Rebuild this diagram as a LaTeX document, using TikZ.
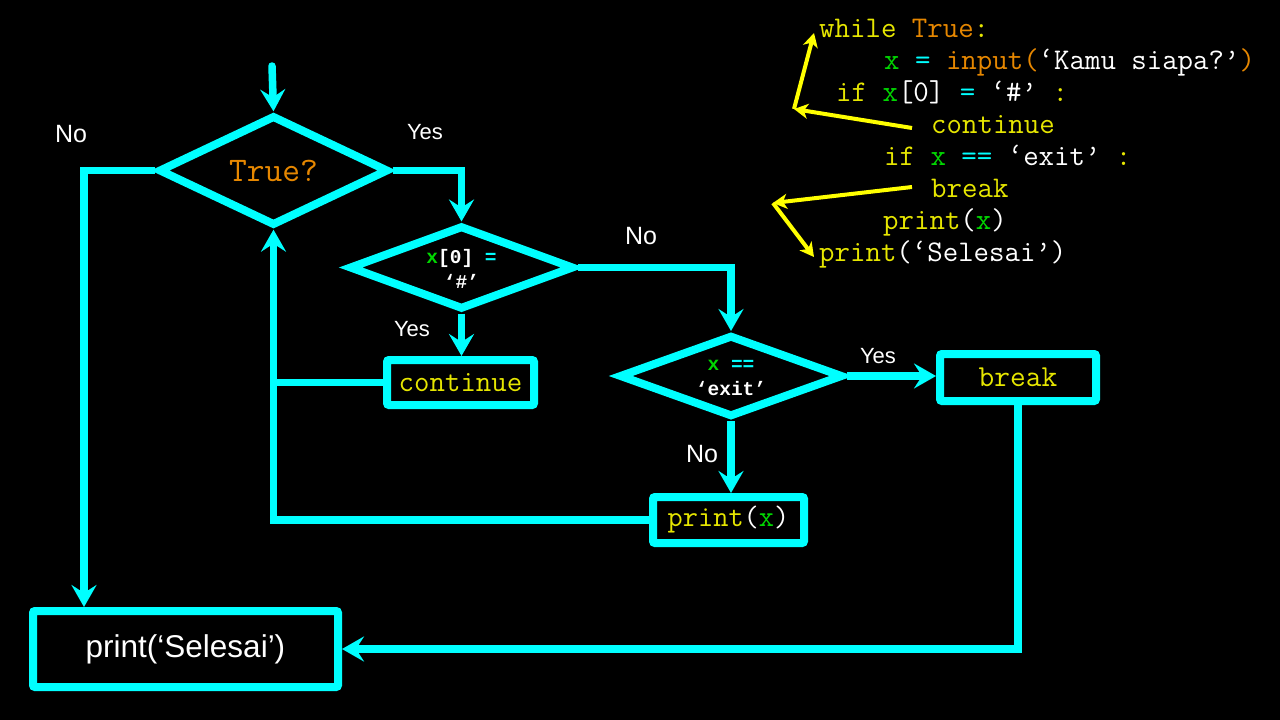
\documentclass[tikz,border=0pt]{standalone}
\usepackage{fontspec}
\setmainfont{Liberation Sans}
\newfontfamily\monob{Liberation Mono}
\usetikzlibrary{shapes.geometric,arrows.meta}
\definecolor{cy}{RGB}{0,255,255}
\definecolor{ylw}{RGB}{230,230,0}
\definecolor{yarr}{RGB}{255,255,0}
\definecolor{org}{RGB}{230,135,0}
\definecolor{grn}{RGB}{0,215,0}
\begin{document}
\begin{tikzpicture}[x=1pt,y=-1pt,
  flow/.style={draw=cy, line width=8pt, fill=black},
  dia/.style={flow, diamond, inner sep=0pt},
  box/.style={flow, rectangle, rounded corners=2pt, inner sep=0pt},
  ln/.style={draw=cy, line width=7.5pt},
  arr/.style={ln, -{Stealth[length=22pt,width=25pt,inset=8pt]}},
  yarrow/.style={draw=yarr, line width=4pt, -{Stealth[length=14pt,width=15pt,inset=4pt]}},
  lab/.style={white, inner sep=0pt},
  code/.style={white, anchor=base west, inner sep=0pt, font=\ttfamily\fontsize{30}{32}\selectfont},
  dtext/.style={white, align=center, font=\monob\bfseries\fontsize{19.5}{25}\selectfont}
]
\fill[black] (0,0) rectangle (1280,720);
\useasboundingbox (0,0) rectangle (1280,720);

% flowchart nodes
\node[dia, minimum width=230pt, minimum height=85pt] (d1) at (273.5,170.5)
  {\textcolor{org}{\ttfamily\fontsize{34.5}{36}\selectfont True?}};
\node[dia, minimum width=225pt, minimum height=84pt] (d2) at (461.5,267.5) {};
\node[dia, minimum width=224pt, minimum height=82pt] (d3) at (731,376) {};
\node[box, minimum width=147pt, minimum height=45pt] (cont) at (460.5,382.5)
  {\textcolor{ylw}{\ttfamily\fontsize{30}{32}\selectfont continue}};
\node[box, minimum width=151pt, minimum height=46pt] (px) at (728.5,520)
  {\ttfamily\fontsize{29.5}{32}\selectfont\textcolor{ylw}{print}\textcolor{white}{(}\textcolor{grn}{x}\textcolor{white}{)}};
\node[box, minimum width=156pt, minimum height=47pt] (brk) at (1018,377.5)
  {\textcolor{ylw}{\ttfamily\fontsize{30.5}{32}\selectfont break}};
\node[box, minimum width=305pt, minimum height=76pt] (psel) at (185.5,649)
  {\textcolor{white}{\fontsize{31.5}{36}\selectfont print(‘Selesai’)}};

% diamond texts
\node[dtext] (t2) at (461.5,268.5) {\textcolor{grn}{x}[0] \textcolor{cy}{=}\\‘\#’};
\node[dtext] (t3) at (731,378) {\textcolor{grn}{x} \textcolor{cy}{==}\\‘exit’};

% connectors
\coordinate (start) at (272,66);
\coordinate (lx) at (84,0);
\draw[arr, line cap=round] (start) -- (d1.north);
\draw[arr] (d1.east) -| (d2.north);
\draw[arr] (d1.west) -| (psel.north -| lx);
\draw[arr] (d2.south) -- (d2.south |- cont.north);
\draw[ln] (cont.west) -- (cont.west -| d1.south);
\draw[arr] (px.west) -| (d1.south);
\draw[arr] (d2.east) -| (d3.north);
\draw[arr] (d3.east) -- (d3.east -| brk.west);
\draw[arr] (d3.south) -- (d3.south |- px.north);
\draw[arr] (brk.south) |- (psel.east);

% labels
\node[lab, font=\fontsize{25}{28}\selectfont] (no1) at (71,134) {No};
\node[lab, font=\fontsize{22}{26}\selectfont] (yes1) at (425,132) {Yes};
\node[lab, font=\fontsize{25}{28}\selectfont] (no2) at (641,236) {No};
\node[lab, font=\fontsize{22}{26}\selectfont] (yes2) at (412,329) {Yes};
\node[lab, font=\fontsize{22}{26}\selectfont] (yes3) at (878,356) {Yes};
\node[lab, font=\fontsize{25}{28}\selectfont] (no3) at (702,454) {No};

% code
\node[code] (c1) at (819,37) {\textcolor{ylw}{while} \textcolor{org}{True}\textcolor{ylw}{:}};
\node[code] (c2) at (884,69) {\textcolor{grn}{x} \textcolor{cy}{=} \textcolor{org}{input(}‘Kamu siapa?’\textcolor{org}{)}};
\node[code] (c3) at (836,101) {\textcolor{ylw}{if} \textcolor{grn}{x}[0] \textcolor{cy}{=} ‘\#’ \textcolor{ylw}{:}};
\node[code] (c4) at (931,133) {\textcolor{ylw}{continue}};
\node[code] (c5) at (884,165) {\textcolor{ylw}{if} \textcolor{grn}{x} \textcolor{cy}{==} ‘exit’ \textcolor{ylw}{:}};
\node[code] (c6) at (931,197) {\textcolor{ylw}{break}};
\node[code] (c7) at (883,229) {\textcolor{ylw}{print}(\textcolor{grn}{x})};
\node[code] (c8) at (819,261) {\textcolor{ylw}{print}(‘Selesai’)};

% yellow arrows
\coordinate (ya1) at (912,128);
\coordinate (ya2) at (794,109);
\coordinate (ya3) at (814,33);
\coordinate (yb1) at (912,187);
\coordinate (yb2) at (773,203);
\coordinate (yb3) at (814,257);
\draw[yarrow] (ya1) -- (ya2);
\draw[yarrow] (ya2) -- (ya3);
\draw[yarrow] (yb1) -- (yb2);
\draw[yarrow] (yb2) -- (yb3);
\end{tikzpicture}
\end{document}
